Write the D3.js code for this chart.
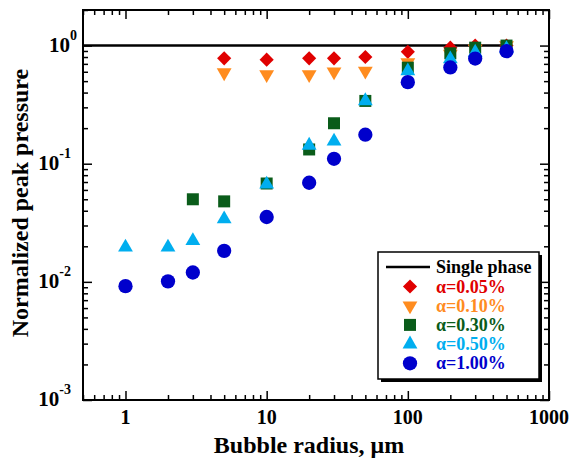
<!DOCTYPE html>
<html>
<head>
<meta charset="utf-8">
<script src="https://cdn.jsdelivr.net/npm/d3@7"></script>
<style>
  body { margin: 0; background: #fff; }
  svg { display: block; font-family: "Liberation Serif", "Times New Roman", serif; font-weight: bold; }
</style>
</head>
<body>
<div id="chart"></div>
<script>
// bubble radius (um)
const radii = [1, 2, 3, 5, 10, 20, 30, 50, 100, 200, 300, 500];
// normalized peak pressure per void fraction (null = no point)
const alpha005 = [null, null, null, 0.78, 0.76, 0.78, 0.78, 0.80, 0.885, 0.96, 1.0, 1.0];
const alpha010 = [null, null, null, 0.59, 0.57, 0.57, 0.60, 0.61, 0.72, 0.85, 0.94, 1.0];
const alpha030 = [null, null, 0.050, 0.048, 0.068, 0.132, 0.22, 0.34, 0.65, 0.86, 0.96, 1.0];
const alpha050 = [0.0196, 0.0196, 0.0223, 0.034, 0.067, 0.143, 0.155, 0.34, 0.61, 0.77, 0.875, 0.94];
const alpha100 = [0.0092, 0.0101, 0.012, 0.0183, 0.0354, 0.069, 0.11, 0.176, 0.49, 0.653, 0.777, 0.897];
const singlePhaseX = [0.5, 500];
const singlePhaseY = [1, 1];
const xTicks = [1, 10, 100, 1000];
const yExponents = [-3, -2, -1, 0];

const W = 570, H = 461;
const svg = d3.select('#chart').append('svg').attr('width', W).attr('height', H);

const x = d3.scaleLog().domain([0.5, 1000]).range([83, 549]);
const y = d3.scaleLog().domain([0.001, 2]).range([400, 10]);

const series = [
  { label: 'α=0.05%', values: alpha005, color: '#e00000', shape: 'diamond' },
  { label: 'α=0.10%', values: alpha010, color: '#ff8c1f', shape: 'down' },
  { label: 'α=0.30%', values: alpha030, color: '#0a5c1a', shape: 'square' },
  { label: 'α=0.50%', values: alpha050, color: '#00aeef', shape: 'up' },
  { label: 'α=1.00%', values: alpha100, color: '#0000cc', shape: 'circle' }
];

const symbolPath = shape => {
  if (shape === 'circle') return d3.symbol(d3.symbolCircle, 160)();
  if (shape === 'square') return d3.symbol(d3.symbolSquare, 144)();
  if (shape === 'diamond') return d3.symbol(d3.symbolSquare, 100)();
  return d3.symbol(d3.symbolTriangle, 95)();
};
const symbolRotate = shape => shape === 'diamond' ? 45 : (shape === 'down' ? 180 : 0);

// minor ticks from the scale
const xMinor = x.ticks().filter(v => !xTicks.includes(v));
const yMinor = y.ticks().filter(v => Math.abs(Math.log10(v) - Math.round(Math.log10(v))) > 1e-6);
const yMajor = yExponents.map(e => Math.pow(10, e));

const axisStyle = g => {
  g.select('.domain').remove();
  g.selectAll('line').attr('stroke', '#000').attr('stroke-width', 1.5);
  g.selectAll('text').remove();
};

// bottom (ticks inward)
svg.append('g').attr('transform', 'translate(0,400)')
  .call(d3.axisBottom(x).tickValues(xTicks).tickSize(-9)).call(axisStyle);
svg.append('g').attr('transform', 'translate(0,400)')
  .call(d3.axisBottom(x).tickValues(xMinor).tickSize(-5)).call(axisStyle);
// top
svg.append('g').attr('transform', 'translate(0,10)')
  .call(d3.axisTop(x).tickValues(xTicks).tickSize(-9)).call(axisStyle);
svg.append('g').attr('transform', 'translate(0,10)')
  .call(d3.axisTop(x).tickValues(xMinor).tickSize(-5)).call(axisStyle);
// left
svg.append('g').attr('transform', 'translate(83,0)')
  .call(d3.axisLeft(y).tickValues(yMajor).tickSize(-9)).call(axisStyle);
svg.append('g').attr('transform', 'translate(83,0)')
  .call(d3.axisLeft(y).tickValues(yMinor).tickSize(-5)).call(axisStyle);
// right
svg.append('g').attr('transform', 'translate(549,0)')
  .call(d3.axisRight(y).tickValues(yMajor).tickSize(-9)).call(axisStyle);
svg.append('g').attr('transform', 'translate(549,0)')
  .call(d3.axisRight(y).tickValues(yMinor).tickSize(-5)).call(axisStyle);

// frame
svg.append('rect').attr('x', 83).attr('y', 10).attr('width', 466).attr('height', 390)
  .attr('fill', 'none').attr('stroke', '#000').attr('stroke-width', 2);

// x tick labels
svg.append('g').selectAll('text').data(xTicks).join('text')
  .attr('x', d => x(d)).attr('y', 424)
  .attr('text-anchor', 'middle').attr('font-size', 20)
  .text(d => d);

// y tick labels with superscript
const yl = svg.append('g').selectAll('text').data(yExponents).join('text')
  .attr('x', 71).attr('y', d => y(Math.pow(10, d)) + 6)
  .attr('text-anchor', 'end').attr('font-size', 21);
yl.append('tspan').text('10');
yl.append('tspan').attr('font-size', 14).attr('dy', -12).text(d => d);
yl.attr('x', d => d < 0 ? 71 : 77);

// axis titles
svg.append('text').attr('x', 309).attr('y', 453).attr('text-anchor', 'middle')
  .attr('font-size', 24).text('Bubble radius, μm');
svg.append('text').attr('transform', 'translate(28,203) rotate(-90)')
  .attr('text-anchor', 'middle').attr('font-size', 24).text('Normalized peak pressure');

// single phase line
const line = d3.line().x(d => x(d[0])).y(d => y(d[1]));
svg.append('path').datum(d3.zip(singlePhaseX, singlePhaseY))
  .attr('d', line).attr('fill', 'none').attr('stroke', '#000').attr('stroke-width', 2.5);

// markers
series.forEach(s => {
  const pts = radii.map((r, i) => [r, s.values[i]]).filter(p => p[1] != null);
  svg.append('g').selectAll('path').data(pts).join('path')
    .attr('d', symbolPath(s.shape))
    .attr('transform', d => `translate(${x(d[0])},${y(d[1])}) rotate(${symbolRotate(s.shape)})`)
    .attr('fill', s.color);
});

// legend
const lg = svg.append('g');
lg.append('rect').attr('x', 381).attr('y', 255).attr('width', 161).attr('height', 127).attr('fill', '#000');
lg.append('rect').attr('x', 378).attr('y', 252).attr('width', 161).attr('height', 127)
  .attr('fill', '#fff').attr('stroke', '#000').attr('stroke-width', 1.5);
lg.append('line').attr('x1', 386).attr('x2', 430).attr('y1', 267).attr('y2', 267)
  .attr('stroke', '#000').attr('stroke-width', 2.5);
lg.append('text').attr('x', 436).attr('y', 273).attr('font-size', 18).text('Single phase');
series.forEach((s, i) => {
  const cy = 286.5 + i * 19.2;
  lg.append('path').attr('d', symbolPath(s.shape))
    .attr('transform', `translate(410,${cy}) rotate(${symbolRotate(s.shape)})`)
    .attr('fill', s.color);
  lg.append('text').attr('x', 436).attr('y', cy + 6).attr('font-size', 18)
    .attr('fill', s.color).text(s.label);
});
</script>
</body>
</html>
